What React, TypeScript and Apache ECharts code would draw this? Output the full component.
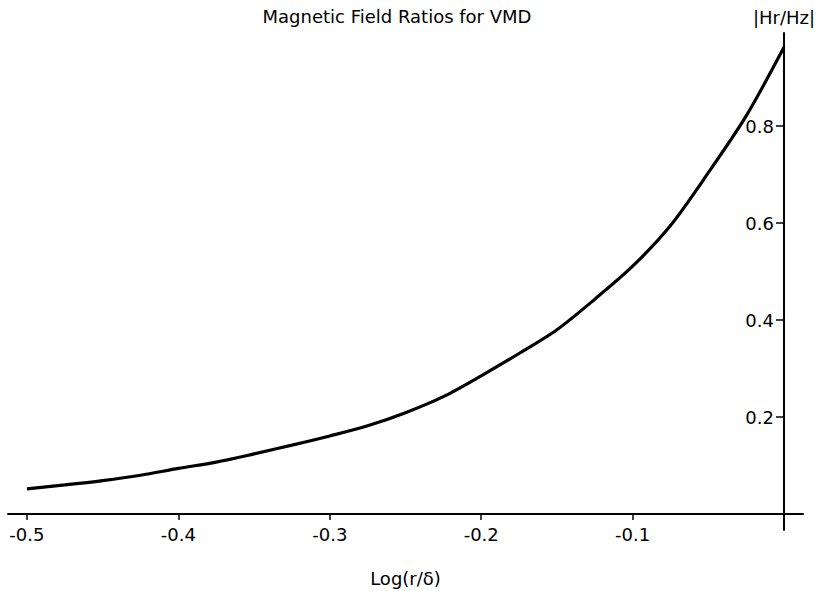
import React, { useEffect, useRef } from "react";
import * as echarts from "echarts";

// Log(r/δ) values and |Hr/Hz|
const logRDelta = [-0.5, -0.475, -0.45, -0.425, -0.4, -0.375, -0.35, -0.325, -0.3, -0.275, -0.25, -0.225, -0.2, -0.175, -0.15, -0.125, -0.1, -0.075, -0.05, -0.025, 0];
const hrHz = [0.052, 0.06, 0.069, 0.08, 0.094, 0.107, 0.124, 0.142, 0.161, 0.182, 0.209, 0.242, 0.285, 0.331, 0.38, 0.443, 0.511, 0.595, 0.704, 0.821, 0.963];

const xTicks = [-0.5, -0.4, -0.3, -0.2, -0.1];
const yTicks = [0.2, 0.4, 0.6, 0.8];

const titleText = "Magnetic Field Ratios for VMD";
const xName = "Log(r/δ)";
const yName = "|Hr/Hz|";

const FONT = "DejaVu Sans";

export default function App() {
  const ref = useRef<HTMLDivElement>(null);
  useEffect(() => {
    if (!ref.current) return;
    const chart = echarts.init(ref.current, undefined, { renderer: "svg" });
    const data = logRDelta.map((x, i) => [x, hrHz[i]]);
    chart.setOption({
      animation: false,
      backgroundColor: "#ffffff",
      title: {
        text: titleText,
        left: 392,
        top: 2,
        textAlign: "center",
        textStyle: { fontFamily: FONT, fontSize: 18, fontWeight: "normal", color: "#000" },
      },
      grid: { left: 8, right: 17, top: 33, bottom: 61, containLabel: false, outerBoundsMode: "none" },
      xAxis: {
        type: "value",
        position: "bottom",
        offset: -16,
        min: -0.5125,
        max: 0.0125,
        name: xName,
        nameLocation: "middle",
        nameGap: 55,
        nameTextStyle: { fontFamily: FONT, fontSize: 18, color: "#000" },
        axisLine: { show: true, onZero: false, lineStyle: { color: "#000", width: 2 } },
        axisTick: { show: true, length: 6, customValues: xTicks, lineStyle: { color: "#000", width: 1.5 } },
        axisLabel: {
          customValues: xTicks,
          margin: 11,
          fontFamily: FONT,
          fontSize: 18,
          color: "#000",
          formatter: (v: number) => v.toFixed(1),
        },
        splitLine: { show: false },
      },
      yAxis: {
        type: "value",
        position: "right",
        offset: -19,
        min: -0.033,
        max: 0.992,
        name: yName,
        nameLocation: "end",
        nameGap: 7,
        nameTextStyle: { fontFamily: FONT, fontSize: 18, color: "#000", align: "center" },
        axisLine: { show: true, onZero: false, lineStyle: { color: "#000", width: 2 } },
        axisTick: { show: true, inside: true, length: 8, customValues: yTicks, lineStyle: { color: "#000", width: 1.5 } },
        axisLabel: {
          customValues: yTicks,
          inside: true,
          margin: 10,
          fontFamily: FONT,
          fontSize: 18,
          color: "#000",
          formatter: (v: number) => v.toFixed(1),
        },
        splitLine: { show: false },
      },
      series: [
        {
          type: "line",
          data,
          smooth: 0.3,
          showSymbol: false,
          lineStyle: { color: "#000", width: 3.2 },
        },
      ],
    });
    return () => chart.dispose();
  }, []);
  return (
    <div
      ref={ref}
      style={{ position: "fixed", left: 0, top: 0, width: 820, height: 591, background: "#fff" }}
    />
  );
}
